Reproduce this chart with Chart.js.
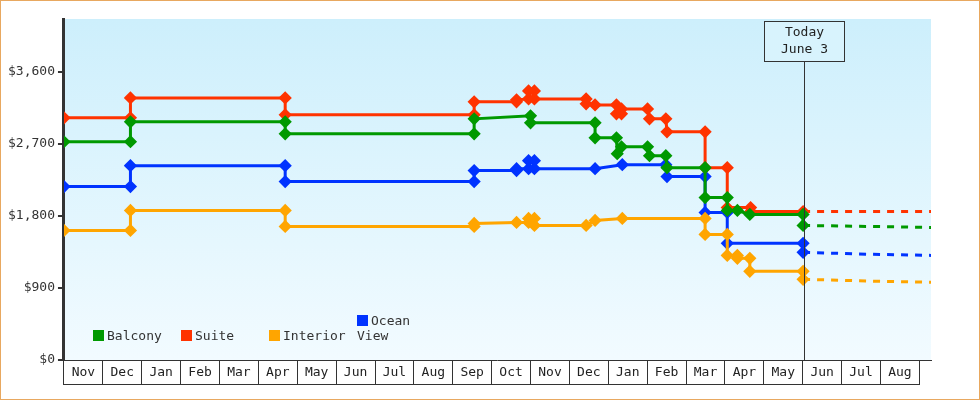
<!DOCTYPE html>
<html>
<head>
<meta charset="utf-8">
<script src="https://cdn.jsdelivr.net/npm/chart.js@4"></script>
<style>
  body { margin: 0; background: #fff; }
  #wrap { position: relative; width: 978px; height: 398px; border: 1px solid #e8a860; }
  #legend { position: absolute; left: 92px; top: 312px; font: 13px "DejaVu Sans Mono", monospace; color: #333; }
  #legend div { display: inline-block; width: 88px; height: 20px; }
  #legend span { display: inline-block; width: 11px; height: 11px; margin-right: 3px; vertical-align: -1px; }
</style>
</head>
<body>
<div id="wrap">
  <canvas id="c" width="978" height="398"></canvas>
  <div id="legend"></div>
</div>
<script>
// x values are months since the start of the first Nov, y values are dollars
var months = ["Nov","Dec","Jan","Feb","Mar","Apr","May","Jun","Jul","Aug","Sep","Oct",
              "Nov","Dec","Jan","Feb","Mar","Apr","May","Jun","Jul","Aug"];
var yTicks = [0, 900, 1800, 2700, 3600];
var todayX = 19.04;
var todayLabel = ["Today", "June 3"];

var names = ["Balcony", "Suite", "Interior", "Ocean View"];
var colors = ["#009900", "#ff3300", "#ffa500", "#0033ff"];

var suiteX = [0,1.71,1.71,5.69,5.69,10.55,10.55,11.64,11.64,11.95,11.95,12.1,12.1,13.43,13.43,13.66,14.21,14.21,14.34,14.34,15.01,15.06,15.48,15.51,16.49,16.49,17.06,17.06,17.66,17.66,19.01];
var suiteY = [3025,3025,3274,3274,3063,3063,3225,3225,3250,3262,3362,3362,3262,3262,3200,3187,3187,3075,3075,3137,3137,3013,3013,2851,2851,2403,2403,1905,1905,1855,1855];
var suiteFutX = [19.01, 22.3];
var suiteFutY = [1855, 1855];

var balconyX = [0,1.71,1.71,5.69,5.69,10.55,10.55,12.0,12.0,13.66,13.66,14.21,14.23,14.34,15.01,15.06,15.48,15.51,16.49,16.49,17.06,17.06,17.32,17.64,19.01,19.01];
var balconyY = [2727,2727,2976,2976,2826,2826,3013,3050,2963,2963,2776,2776,2577,2664,2664,2552,2552,2403,2403,2029,2029,1868,1868,1818,1818,1681];
var balconyFutX = [19.01, 20.8, 22.3];
var balconyFutY = [1681, 1668, 1656];

var oceanX = [0,1.71,1.71,5.69,5.69,10.55,10.55,11.64,11.64,11.95,11.95,12.1,12.1,13.66,14.36,15.48,15.51,16.49,16.49,17.06,17.06,19.01,19.01];
var oceanY = [2166,2166,2428,2428,2229,2229,2366,2366,2390,2390,2490,2490,2390,2390,2440,2440,2291,2291,1843,1843,1457,1457,1345];
var oceanFutX = [19.01, 20.8, 22.3];
var oceanFutY = [1345, 1320, 1307];

var interiorX = [0,1.71,1.71,5.69,5.69,10.55,10.55,11.64,11.95,11.95,12.1,12.1,13.43,13.66,14.36,16.49,16.49,17.06,17.06,17.32,17.32,17.64,17.64,19.01,19.01];
var interiorY = [1619,1619,1868,1868,1668,1668,1706,1718,1718,1768,1768,1681,1681,1743,1768,1768,1569,1569,1307,1307,1270,1270,1108,1108,1008];
var interiorFutX = [19.01, 20.8, 22.3];
var interiorFutY = [1008, 985, 971];

function pts(xs, ys) {
	return xs.map(function (x, i) { return { x: x, y: ys[i] }; });
}

function solid(label, color, xs, ys) {
	return { label: label, data: pts(xs, ys), borderColor: color, backgroundColor: color,
		borderWidth: 3, pointStyle: 'rectRot', pointRadius: 4.5, pointHoverRadius: 4.5, tension: 0 };
}
function dotted(color, xs, ys) {
	return { label: '', data: pts(xs, ys), borderColor: color, borderWidth: 3,
		borderDash: [7, 7], pointRadius: 0, tension: 0 };
}

var fmt = function (v) { return "$" + v.toLocaleString("en-US"); };

var bgPlugin = {
	id: 'bg',
	beforeDraw: function (chart) {
		var a = chart.chartArea, ctx = chart.ctx;
		var g = ctx.createLinearGradient(0, a.top, 0, a.bottom);
		g.addColorStop(0, "#cdeffc");
		g.addColorStop(1, "#f2fbff");
		ctx.fillStyle = g;
		ctx.fillRect(a.left, a.top, a.right - a.left, a.bottom - a.top);
	},
	afterDraw: function (chart) {
		var a = chart.chartArea, ctx = chart.ctx, xs = chart.scales.x;
		ctx.save();
		// month labels centred in their boxes
		ctx.font = '13px "DejaVu Sans Mono", monospace';
		ctx.fillStyle = "#222";
		ctx.textAlign = "center";
		ctx.textBaseline = "middle";
		months.forEach(function (m, i) {
			ctx.fillText(m, xs.getPixelForValue(i + 0.5), a.bottom + 13);
		});
		ctx.strokeStyle = "#333";
		ctx.lineWidth = 1;
		ctx.beginPath();
		ctx.moveTo(a.left, a.bottom + 24.5);
		ctx.lineTo(xs.getPixelForValue(months.length), a.bottom + 24.5);
		ctx.stroke();
		// today marker
		var tx = Math.round(xs.getPixelForValue(todayX)) + 0.5;
		ctx.strokeStyle = "#333";
		ctx.beginPath();
		ctx.moveTo(tx, a.top + 42);
		ctx.lineTo(tx, a.bottom);
		ctx.stroke();
		ctx.fillStyle = "#d8f3fd";
		ctx.fillRect(tx - 40, a.top + 2, 80, 40);
		ctx.strokeRect(tx - 40, a.top + 2.5, 80, 40);
		ctx.fillStyle = "#222";
		ctx.fillText(todayLabel[0], tx, a.top + 14);
		ctx.fillText(todayLabel[1], tx, a.top + 31);
		ctx.restore();
	}
};

Chart.defaults.font.family = '"DejaVu Sans Mono", monospace';
Chart.defaults.font.size = 13;
Chart.defaults.color = "#333";

new Chart(document.getElementById('c'), {
	type: 'line',
	data: {
		datasets: [
			solid(names[0], colors[0], balconyX, balconyY),
			solid(names[1], colors[1], suiteX, suiteY),
			solid(names[2], colors[2], interiorX, interiorY),
			solid(names[3], colors[3], oceanX, oceanY),
			dotted(colors[0], balconyFutX, balconyFutY),
			dotted(colors[1], suiteFutX, suiteFutY),
			dotted(colors[2], interiorFutX, interiorFutY),
			dotted(colors[3], oceanFutX, oceanFutY)
		]
	},
	options: {
		responsive: false,
		animation: false,
		layout: { padding: { left: 4, top: 18, right: 48, bottom: 14 } },
		plugins: { legend: { display: false }, tooltip: { enabled: false } },
		scales: {
			x: {
				type: 'linear', min: 0, max: 22.3,
				afterBuildTicks: function (s) { s.ticks = months.map(function (m, i) { return { value: i }; }).concat([{ value: months.length }]); },
				ticks: { display: false },
				grid: { drawOnChartArea: false, tickLength: 25, color: "#333" },
				border: { color: "#333", width: 1 }
			},
			y: {
				min: 0, max: 4260,
				afterBuildTicks: function (s) { s.ticks = yTicks.map(function (v) { return { value: v }; }); },
				ticks: { callback: fmt, color: "#333", padding: 3 },
				grid: { drawOnChartArea: false, tickLength: 6, color: "#333", lineWidth: 2 },
				border: { color: "#333", width: 3 }
			}
		}
	},
	plugins: [bgPlugin]
});

var lg = document.getElementById('legend');
[0, 1, 2, 3].forEach(function (i) {
	var d = document.createElement('div');
	d.innerHTML = '<span style="background:' + colors[i] + '"></span>' + names[i];
	lg.appendChild(d);
});
</script>
</body>
</html>
